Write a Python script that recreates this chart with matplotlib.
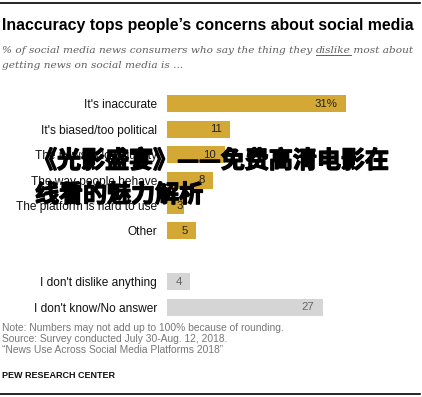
import matplotlib
matplotlib.use('Agg')
import matplotlib.pyplot as plt
import matplotlib.patheffects as pe
import numpy as np

W, H = 422, 397

categories = ["It's inaccurate", "It's biased/too political", "The news is low quality",
              "The way people behave", "The platform is hard to use", "Other",
              "", "I don't dislike anything", "I don't know/No answer"]
values = [31, 11, 10, 8, 3, 5, None, 4, 27]
labels = ["31%", "11", "10", "8", "3", "5", "", "4", "27"]
is_gray = [False, False, False, False, False, False, False, True, True]

GOLD = "#D4A835"
GRAY = "#D5D5D5"


def fx(px):
    return px / W


def fy(py):
    return 1 - py / H


def main():
    fig = plt.figure(figsize=(W / 100, H / 100), dpi=100)
    fig.patch.set_facecolor("white")

    # bar area: x from 167px, 5.77 px per point; slot centers 104..307px
    left, right = 167, 420
    top, bottom = 91.3, 319.7
    ax = fig.add_axes([fx(left), fy(bottom), fx(right - left), (bottom - top) / H])
    scale = 5.77
    ax.set_xlim(0, (right - left) / scale)
    ax.set_ylim(len(categories) - 0.5, -0.5)

    for i, (v, lab, g) in enumerate(zip(values, labels, is_gray)):
        if v is None:
            continue
        ax.barh(i, v, height=0.67, color=GRAY if g else GOLD, edgecolor="none")
        tc = "#666666" if g else "#222222"
        if v < 4:
            ax.text(1.6, i, lab, ha="left", va="center", fontsize=8.2,
                    color=tc, family="Liberation Sans")
        else:
            ax.text(v - 1.45, i, lab, ha="right", va="center", fontsize=8.2,
                    color=tc, family="Liberation Sans")

    ax.set_yticks(range(len(categories)))
    ax.set_yticklabels(categories, fontsize=8.6, family="Liberation Sans", color="#111111")
    ax.tick_params(axis="y", length=0, pad=7.2)
    ax.set_xticks([])
    for s in ax.spines.values():
        s.set_visible(False)

    # rules at top and bottom
    fig.add_artist(plt.Line2D([0, fx(420)], [fy(3), fy(3)], color="black", lw=1.2))
    fig.add_artist(plt.Line2D([0, fx(420)], [fy(394), fy(394)], color="black", lw=1.2))

    fig.text(fx(2), fy(30), "Inaccuracy tops people\u2019s concerns about social media",
             fontsize=11.4, fontweight="bold", family="Liberation Sans", va="baseline")

    # subtitle, sized so that the first line spans ~410px
    pre = "% of social media news consumers who say the thing they "
    full = pre + "dislike most about"
    fig.canvas.draw()
    r = fig.canvas.get_renderer()
    probe = fig.text(0, 0, full, fontsize=8.0, style="italic", family="DejaVu Serif")
    wfull = probe.get_window_extent(r).width
    probe.remove()
    fs = 8.0 * 410 / wfull

    sub_kw = dict(fontsize=fs, style="italic", family="DejaVu Serif", color="#5e5e5e", va="baseline")
    t1 = fig.text(fx(2), fy(53), pre, **sub_kw)
    bb = t1.get_window_extent(r)
    t2 = fig.text(bb.x1 / W, fy(53), "dislike", **sub_kw)
    bb2 = t2.get_window_extent(r)
    fig.text(bb2.x1 / W, fy(53), " most about", **sub_kw)
    fig.add_artist(plt.Line2D([bb2.x0 / W + 0.002, bb2.x1 / W], [fy(55), fy(55)],
                              color="#5e5e5e", lw=0.7))
    fig.text(fx(2), fy(68), "getting news on social media is ...", **sub_kw)

    note_kw = dict(fontsize=7.4, family="Liberation Sans", color="#777777", va="baseline")
    fig.text(fx(2), fy(331), "Note: Numbers may not add up to 100% because of rounding.", **note_kw)
    fig.text(fx(2), fy(342), "Source: Survey conducted July 30-Aug. 12, 2018.", **note_kw)
    fig.text(fx(2), fy(353), "\u201cNews Use Across Social Media Platforms 2018\u201d", **note_kw)
    fig.text(fx(2), fy(378), "PEW RESEARCH CENTER", fontsize=6.5, fontweight="bold",
             family="Liberation Sans", color="#111111", va="baseline")

    # overlay text
    ov_kw = dict(fontsize=17.3, fontweight="black", family=["Noto Sans CJK SC", "DejaVu Sans"],
                 color="black", va="center", ha="left",
                 path_effects=[pe.withStroke(linewidth=1.0, foreground="black")])
    fig.text(fx(33), fy(161), "\u300a\u5149\u5f71\u76db\u5bb4\u300b\u2014\u2014\u514d\u8d39\u9ad8\u6e05\u7535\u5f71\u5728", **ov_kw)
    fig.text(fx(35), fy(195), "\u7ebf\u770b\u7684\u9b45\u529b\u89e3\u6790", **ov_kw)

    fig.savefig("out.png", dpi=100)


if __name__ == "__main__":
    main()
